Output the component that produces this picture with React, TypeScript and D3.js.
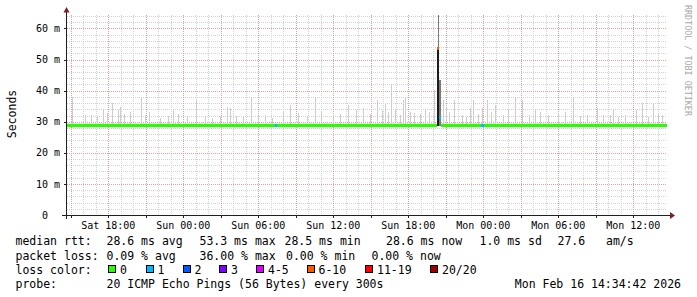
import React, { useEffect } from "react";
import * as d3 from "d3";

const W = 697;
const H = 297;

// ---- data ----
const startTime = new Date(2026, 1, 14, 14, 42, 0);
const endTime = new Date(2026, 1, 16, 14, 42, 0);
const yMaxMs = 64.5;
const yTicksMs = [0, 10, 20, 30, 40, 50, 60];
const medianMs = 28.6;
const baseSmokeTopMs = 29.5;

// smoke spikes: hours since start, top of smoke (ms)
const spikeHours = [
  0.4, 1.44, 1.92, 2.4, 2.88, 3.2, 3.6, 4.08, 4.24, 4.56, 5.04, 5.92, 6.24, 6.56, 7.44, 8.08, 8.48, 8.88,
  9.6, 10.32, 11.04, 11.6, 12.24, 12.8, 13.04, 13.52, 14.08, 14.72, 15.28, 15.84, 16.4, 17.28, 17.84,
  18.48, 19.2, 19.84, 20.4, 21.28, 21.84, 22.48, 23.12, 23.68, 24.24, 24.88, 25.2, 25.52, 25.68, 26.0,
  26.24, 26.64, 26.88, 27.12, 27.44, 27.76, 28.24, 28.64, 29.04, 29.36, 30.08, 30.32, 30.56, 30.96,
  31.6, 32.0, 32.24, 32.48, 32.88, 33.2, 33.6, 33.92, 34.24, 34.88, 35.28, 35.84, 36.4, 37.04, 37.44,
  37.84, 38.48, 39.28, 39.84, 40.48, 41.04, 41.6, 42.4, 42.88, 43.44, 43.68, 44.08, 44.64, 45.52, 46.0,
  46.48, 46.88, 47.28, 47.6,
];
const spikeTopMs = [
  37.9, 32.2, 32.2, 31.5, 33.8, 32.8, 36.0, 33.8, 34.7, 32.5, 33.1, 37.9, 32.2, 33.1, 31.2, 31.8, 33.8, 32.5,
  31.5, 37.0, 31.5, 31.2, 31.8, 34.7, 34.4, 31.8, 31.5, 37.9, 31.8, 32.2, 31.2, 33.1, 35.4,
  32.8, 31.5, 37.9, 33.1, 32.2, 32.5, 35.4, 33.8, 34.4, 32.5, 37.0, 33.8, 35.7, 33.1, 42.1,
  33.8, 32.2, 37.0, 37.9, 33.1, 32.8, 32.5, 33.8, 33.1, 40.2, 37.0, 34.4, 33.1, 37.0,
  32.2, 31.5, 34.4, 37.0, 32.5, 34.4, 37.0, 33.1, 35.4, 32.2, 33.8, 37.9, 37.0, 32.2, 34.1,
  33.1, 32.2, 32.8, 33.1, 37.9, 31.8, 32.2, 34.4, 32.2, 32.2, 33.8, 31.5, 32.2, 33.8, 36.0,
  31.5, 36.0, 32.5, 32.2,
];

// the outage event (Sun ~20:20)
const eventStartH = [29.56, 29.64, 29.76];
const eventEndH = [29.76, 29.72, 29.92];
const eventLowMs = [28.6, 53.3, 28.6];
const eventHighMs = [53.3, 64.5, 43.4];
const eventShade = ["#1c1c1c", "#7a7a7a", "#7c7c7c"];

// median segments with packet loss
const lossStartH = [16.6, 29.56, 29.76, 33.12];
const lossEndH = [16.8, 29.76, 29.92, 33.32];
const lossMs = [28.6, 53.3, 31.2, 28.6];
const lossCount = [1, 7, 1, 1];

const lossLegendLabels = ["0", "1", "2", "3", "4-5", "6-10", "11-19", "20/20"];
const lossLegendColors = ["#26ff00", "#00b8ff", "#0059ff", "#7e00ff", "#dd00ff", "#ff5500", "#ff0000", "#a10000"];
const lossLegendUpper = [0, 1, 2, 3, 5, 10, 19, 20];

const statRtt = ["28.6 ms avg", "53.3 ms max", "28.5 ms min", "28.6 ms now", "1.0 ms sd", "27.6", "am/s"];
const statLoss = ["0.09 % avg", "36.00 % max", "0.00 % min", "0.00 % now"];
const probeText = "20 ICMP Echo Pings (56 Bytes) every 300s";
const dateText = "Mon Feb 16 14:34:42 2026";

// ---- layout ----
const L = 67, R = 667, T = 14.5, B = 215;
const MONO = "'DejaVu Sans Mono', monospace";

const lossColor = (n: number) => {
  const i = lossLegendUpper.findIndex((u) => n <= u);
  return lossLegendColors[i < 0 ? lossLegendColors.length - 1 : i];
};

export default function App() {
  useEffect(() => {
    document.body.style.margin = "0";
  }, []);

  const x = d3.scaleTime().domain([startTime, endTime]).range([L, R]);
  const y = d3.scaleLinear().domain([0, yMaxMs]).range([B, T]);
  const hAt = (h: number) => new Date(startTime.getTime() + h * 3600e3);

  const hours = d3.timeHour.range(startTime, endTime);
  const minorV = hours.filter((d) => d.getHours() % 3 !== 0);
  const majorV = hours.filter((d) => d.getHours() % 3 === 0);
  const labelV = hours.filter((d) => d.getHours() % 6 === 0);
  const fmt = d3.timeFormat("%a %H:%M");

  const minorH = d3.range(2, yMaxMs, 2).filter((v) => v % 10 !== 0);
  const majorH = yTicksMs.filter((v) => v > 0);

  // median segments
  const segs = lossStartH
    .map((s, i) => ({ s, e: lossEndH[i], ms: lossMs[i], c: lossColor(lossCount[i]) }))
    .sort((a, b) => a.s - b.s);
  const med: { s: number; e: number; ms: number; c: string }[] = [];
  let cur = 0;
  segs.forEach((sg) => {
    if (sg.s > cur) med.push({ s: cur, e: sg.s, ms: medianMs, c: lossLegendColors[0] });
    cur = Math.max(cur, sg.e);
  });
  med.push({ s: cur, e: 48, ms: medianMs, c: lossLegendColors[0] });
  med.push(...segs);

  const charW = 10 * 0.602;
  const yLabX = 60;

  const rttX = [106.5, 199.5, 284.5, 386, 479.5, 557.5, 606];
  const lossX = [106.5, 199.5, 286, 371.5];
  const swX = [108, 145.5, 182.5, 219, 256, 306.5, 365, 430];

  return (
    <svg
      width={W}
      height={H}
      style={{ position: "absolute", left: 0, top: 0, display: "block", background: "#fff" }}
    >
      <rect x={0} y={0} width={W} height={H} fill="#fff" />
      {/* grid */}
      <g shapeRendering="crispEdges" strokeWidth={1} strokeDasharray="1 1">
        {minorH.map((v) => (
          <line key={"mh" + v} x1={L} x2={R} y1={Math.round(y(v)) + 0.5} y2={Math.round(y(v)) + 0.5} stroke="#d2d2d2" />
        ))}
        {minorV.map((d) => (
          <line key={"mv" + d.getTime()} x1={Math.round(x(d)) + 0.5} x2={Math.round(x(d)) + 0.5} y1={T} y2={B} stroke="#d2d2d2" />
        ))}
        {majorH.map((v) => (
          <line key={"Mh" + v} x1={L} x2={R} y1={Math.round(y(v)) + 0.5} y2={Math.round(y(v)) + 0.5} stroke="#e6a0a0" />
        ))}
        {majorV.map((d) => (
          <line key={"Mv" + d.getTime()} x1={Math.round(x(d)) + 0.5} x2={Math.round(x(d)) + 0.5} y1={T} y2={B} stroke="#e6a0a0" />
        ))}
      </g>

      {/* smoke */}
      <g shapeRendering="crispEdges">
        <rect x={L} width={R - L} y={y(baseSmokeTopMs)} height={y(medianMs) - y(baseSmokeTopMs)} fill="#e6e6e6" />
        {spikeHours.map((h, i) => (
          <rect
            key={"sp" + i}
            x={Math.floor(x(hAt(h)))}
            width={1}
            y={y(spikeTopMs[i])}
            height={y(medianMs) - y(spikeTopMs[i])}
            fill="#cdcdcd"
          />
        ))}
        {eventStartH.map((h, i) => (
          <rect
            key={"ev" + i}
            x={x(hAt(h))}
            width={x(hAt(eventEndH[i])) - x(hAt(h))}
            y={y(eventHighMs[i])}
            height={y(eventLowMs[i]) - y(eventHighMs[i])}
            fill={eventShade[i]}
          />
        ))}
      </g>

      {/* median line */}
      <g shapeRendering="crispEdges">
        {med.map((m, i) => (
          <rect
            key={"md" + i}
            x={x(hAt(m.s))}
            width={x(hAt(m.e)) - x(hAt(m.s))}
            y={Math.round(y(m.ms)) - 2}
            height={3}
            fill={m.c}
          />
        ))}
      </g>

      {/* axes */}
      <g shapeRendering="crispEdges" stroke="#1f1f1f" strokeWidth={1}>
        <line x1={L - 5} x2={R + 4} y1={B + 0.5} y2={B + 0.5} />
        <line x1={L - 0.5} x2={L - 0.5} y1={11} y2={B + 4} />
        {majorH.map((v) => (
          <line key={"th" + v} x1={L - 3} x2={L} y1={Math.round(y(v)) + 0.5} y2={Math.round(y(v)) + 0.5} />
        ))}
        {majorV.map((d) => (
          <line key={"tv" + d.getTime()} x1={Math.round(x(d)) + 0.5} x2={Math.round(x(d)) + 0.5} y1={B} y2={B + 3} />
        ))}
      </g>
      <path d={`M${L - 3.5},12.5 L${L + 2.5},12.5 L${L - 0.5},7 Z`} fill="#7f1f1f" />
      <path d={`M${R + 3},212 L${R + 3},219 L${R + 8},215.5 Z`} fill="#7f1f1f" />

      {/* axis labels */}
      <g fontFamily={MONO} fontSize={10} fill="#000">
        {yTicksMs.map((v) =>
          v === 0 ? (
            <text key={"yl" + v} x={yLabX - 4 * charW + charW} y={y(v) + 3.6}>
              0
            </text>
          ) : (
            <text key={"yl" + v} x={yLabX} y={y(v) + 3.6} textAnchor="end">
              {`${v} m`}
            </text>
          )
        )}
        {labelV.map((d) => (
          <text key={"xl" + d.getTime()} x={x(d)} y={228.5} textAnchor="middle">
            {fmt(d)}
          </text>
        ))}
      </g>

      <text
        transform="translate(15.5,114) rotate(-90)"
        fontFamily={MONO}
        fontSize={11.5}
        textAnchor="middle"
        fill="#000"
      >
        Seconds
      </text>
      <text transform="translate(685,5) rotate(90)" fontFamily={MONO} fontSize={8.4} fill="#a8a8a8">
        RRDTOOL / TOBI OETIKER
      </text>

      {/* legend */}
      <g fontFamily={MONO} fontSize={11.5} fill="#000" style={{ whiteSpace: "pre" }}>
        <text x={15.5} y={245}>median rtt:</text>
        {statRtt.map((s, i) => (
          <text key={"r" + i} x={rttX[i]} y={245}>
            {s}
          </text>
        ))}
        <text x={15.5} y={259.5}>packet loss:</text>
        {statLoss.map((s, i) => (
          <text key={"l" + i} x={lossX[i]} y={259.5}>
            {s}
          </text>
        ))}
        <text x={15.5} y={273.5}>loss color:</text>
        {lossLegendLabels.map((s, i) => (
          <g key={"lc" + i}>
            <rect x={swX[i] + 0.5} y={265.5} width={7} height={7} fill={lossLegendColors[i]} stroke="#000" strokeWidth={1} shapeRendering="crispEdges" />
            <text x={swX[i] + 12} y={273.5}>
              {s}
            </text>
          </g>
        ))}
        <text x={15.5} y={288}>probe:</text>
        <text x={106.5} y={288}>{probeText}</text>
        <text x={681} y={288} textAnchor="end">
          {dateText}
        </text>
      </g>
    </svg>
  );
}
